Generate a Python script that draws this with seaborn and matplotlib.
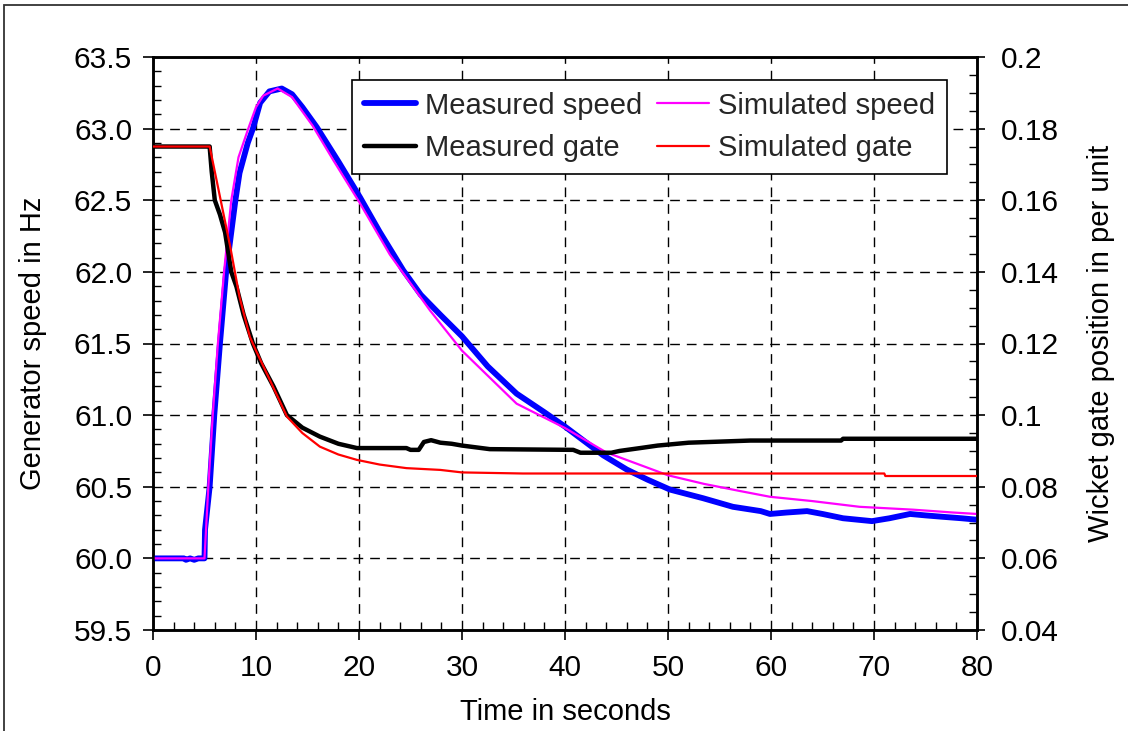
import numpy as np
import pandas as pd
import matplotlib
matplotlib.use("Agg")
import matplotlib.pyplot as plt
from matplotlib.patches import Rectangle
from matplotlib.ticker import MultipleLocator
import seaborn as sns

# ---------------- data ----------------
ms_t = [0, 3.0, 3.2, 3.6, 4.0, 4.4, 5.0, 5.05, 5.5, 5.95, 6.5, 7.1, 8.0, 8.4, 9.2, 9.7, 10.4,
        11.3, 12.5, 13.5, 14.5, 15.9, 18.0, 20.1, 22.0, 24.3, 26.0, 27.9, 30.0, 32.5,
        35.3, 38.0, 40.0, 43.7, 46.0, 48.0, 50.2, 53.4, 56.3, 59.0, 59.9, 61.5, 63.5,
        65.0, 67.0, 69.8, 71.5, 73.5, 75.0, 76.7, 78.5, 80.0]
ms_v = [60.00, 60.00, 59.99, 60.00, 59.99, 60.00, 60.00, 60.20, 60.50, 61.00, 61.50, 62.00,
        62.50, 62.69, 62.90, 63.00, 63.18, 63.26, 63.28, 63.24, 63.15, 63.01, 62.77, 62.52,
        62.28, 62.01, 61.84, 61.70, 61.55, 61.34, 61.15, 61.02, 60.92, 60.72, 60.62, 60.55,
        60.48, 60.42, 60.36, 60.33, 60.31, 60.32, 60.33, 60.31, 60.28, 60.26, 60.28, 60.31,
        60.30, 60.29, 60.28, 60.27]

ss_t = [0, 5.0, 5.37, 5.8, 6.3, 6.9, 7.6, 8.3, 9.25, 10.0, 10.7, 12.1, 13.5, 15.5, 17.5,
        20.0, 23.0, 26.9, 30.0, 35.3, 40.0, 44.0, 47.0, 50.0, 53.5, 57.0, 59.9, 64.0, 68.6,
        73.8, 77.7, 80.0]
ss_v = [60.00, 60.00, 60.50, 61.00, 61.50, 62.00, 62.50, 62.80, 63.00, 63.15, 63.23, 63.28,
        63.22, 63.02, 62.78, 62.49, 62.12, 61.73, 61.45, 61.08, 60.91, 60.74, 60.66, 60.58,
        60.52, 60.47, 60.43, 60.40, 60.36, 60.34, 60.32, 60.31]

mg_t = [0, 5.5, 5.7, 6.0, 6.5, 7.0, 7.6, 8.1, 8.8, 9.7, 10.5, 11.7, 13.0, 14.5, 16.2, 18.0,
        19.8, 24.6, 25.0, 25.8, 26.3, 27.0, 27.9, 29.0, 30.0, 32.7, 40.8, 41.5, 44.5, 45.3,
        47.3, 49.0, 52.0, 58.0, 66.8, 67.0, 80.0]
mg_v = [0.175, 0.175, 0.168, 0.160, 0.156, 0.151, 0.140, 0.1359, 0.128, 0.120, 0.1145,
        0.108, 0.100, 0.0965, 0.0940, 0.0920, 0.0908, 0.0908, 0.0903, 0.0903, 0.0925,
        0.0930, 0.0923, 0.0920, 0.0915, 0.0905, 0.0903, 0.0895, 0.0895, 0.0900, 0.0908,
        0.0915, 0.0923, 0.0929, 0.0929, 0.0934, 0.0934]

sg_t = [0, 5.5, 6.5, 7.5, 8.4, 9.4, 10.0, 11.2, 13.0, 14.5, 16.2, 18.0, 19.8, 22.0, 24.6,
        27.9, 30.0, 35.9, 71.0, 71.1, 80.0]
sg_v = [0.175, 0.175, 0.161, 0.147, 0.133, 0.1219, 0.118, 0.1107, 0.0996, 0.0950, 0.0912,
        0.0890, 0.0875, 0.0862, 0.0852, 0.0847, 0.0840, 0.0837, 0.0837, 0.0830, 0.0830]

x_ticks = [0, 10, 20, 30, 40, 50, 60, 70, 80]
left_ticks = [59.5, 60.0, 60.5, 61.0, 61.5, 62.0, 62.5, 63.0, 63.5]
left_labels = ["59.5", "60.0", "60.5", "61.0", "61.5", "62.0", "62.5", "63.0", "63.5"]
right_ticks = [0.04, 0.06, 0.08, 0.10, 0.12, 0.14, 0.16, 0.18, 0.20]
right_labels = ["0.04", "0.06", "0.08", "0.1", "0.12", "0.14", "0.16", "0.18", "0.2"]

# ---------------- style ----------------
sns.set_theme(style="white")
plt.rcParams["font.family"] = ["Liberation Sans", "DejaVu Sans"]
FS = 21
TFS = 21.5

fig = plt.figure(figsize=(11.28, 7.31), dpi=100)
fig.patch.set_facecolor("white")
ax1 = fig.add_axes([153/1128, 1-630/731, 824/1128, 573/731])
ax2 = ax1.twinx()

df_ms = pd.DataFrame({"t": ms_t, "v": ms_v})
df_ss = pd.DataFrame({"t": ss_t, "v": ss_v})
df_mg = pd.DataFrame({"t": mg_t, "v": mg_v})
df_sg = pd.DataFrame({"t": sg_t, "v": sg_v})

sns.lineplot(data=df_ms, x="t", y="v", ax=ax1, color="#0000FF", lw=4.2,
             estimator=None, label="Measured speed", legend=False, zorder=3)
sns.lineplot(data=df_ss, x="t", y="v", ax=ax1, color="#FF00FF", lw=1.6,
             estimator=None, label="Simulated speed", legend=False, zorder=4)
sns.lineplot(data=df_mg, x="t", y="v", ax=ax2, color="black", lw=3.2,
             estimator=None, label="Measured gate", legend=False, zorder=3)
sns.lineplot(data=df_sg, x="t", y="v", ax=ax2, color="#FF0000", lw=1.6,
             estimator=None, label="Simulated gate", legend=False, zorder=4)

ax1.set_xlim(0, 80)
ax1.set_ylim(59.5, 63.5)
ax2.set_ylim(0.04, 0.20)

ax1.set_xticks(x_ticks)
ax1.set_xticklabels([str(v) for v in x_ticks])
ax1.set_yticks(left_ticks)
ax1.set_yticklabels(left_labels)
ax2.set_yticks(right_ticks)
ax2.set_yticklabels(right_labels)
ax1.xaxis.set_minor_locator(MultipleLocator(2))
ax1.yaxis.set_minor_locator(MultipleLocator(0.1))
ax2.yaxis.set_minor_locator(MultipleLocator(0.005))

ax1.tick_params(axis="both", which="major", direction="out", length=7, width=1.2,
                color="black", labelsize=TFS, labelcolor="black", pad=8)
ax1.tick_params(axis="x", which="major", pad=10)
ax1.tick_params(axis="both", which="minor", direction="in", length=5.5, width=1.0,
                color="black")
ax1.tick_params(axis="x", which="both", bottom=True, top=False)
ax1.tick_params(axis="y", which="both", left=True, right=False)
ax2.tick_params(axis="y", which="major", direction="out", length=6, width=1.2,
                color="black", labelsize=TFS, labelcolor="black", pad=11)
ax2.tick_params(axis="y", which="minor", direction="in", length=5.5, width=1.0,
                color="black")

ax1.grid(True, which="major", color="black", lw=1.0, linestyle=(0, (7, 5)))
ax2.grid(False)

for ax in (ax1, ax2):
    for s in ax.spines.values():
        s.set_color("black")
        s.set_linewidth(1.8)

ax1.set_xlabel("Time in seconds", fontsize=FS, color="black")
ax1.set_ylabel("Generator speed in Hz", fontsize=FS, color="black", va="center")
ax2.set_ylabel("Wicket gate position in per unit", fontsize=FS, color="black",
               va="center", rotation=90)
ax1.xaxis.set_label_coords(0.5, (630-712)/573)
ax1.yaxis.set_label_coords((33-153)/824, 0.5)
ax2.yaxis.set_label_coords((1101-153)/824, 0.5)
ax1.xaxis.label.set_va("center")

# legend combining both axes
h1, l1 = ax1.get_legend_handles_labels()
h2, l2 = ax2.get_legend_handles_labels()
handles = [h1[0], h2[0], h1[1], h2[1]]
labels = [l1[0], l2[0], l1[1], l2[1]]
leg = ax2.legend(handles, labels, ncol=2, loc="upper right",
                 bbox_to_anchor=(947/1128, 1-80/731), bbox_transform=fig.transFigure,
                 borderaxespad=0, fontsize=FS, frameon=True, fancybox=False,
                 framealpha=1, edgecolor="black", handlelength=1.8,
                 handletextpad=0.3, columnspacing=0.5, labelspacing=0.5,
                 borderpad=0.4)
leg.get_frame().set_linewidth(1.2)
leg.set_zorder(10)

# outer figure frame (only left and top edges visible)
fig.patches.append(Rectangle((4/1128, -0.05), 1.2, 1-5/731+0.05, transform=fig.transFigure,
                             fill=False, edgecolor="#333333", lw=1.3, zorder=0))

fig.savefig("out.png", dpi=100, facecolor="white")
